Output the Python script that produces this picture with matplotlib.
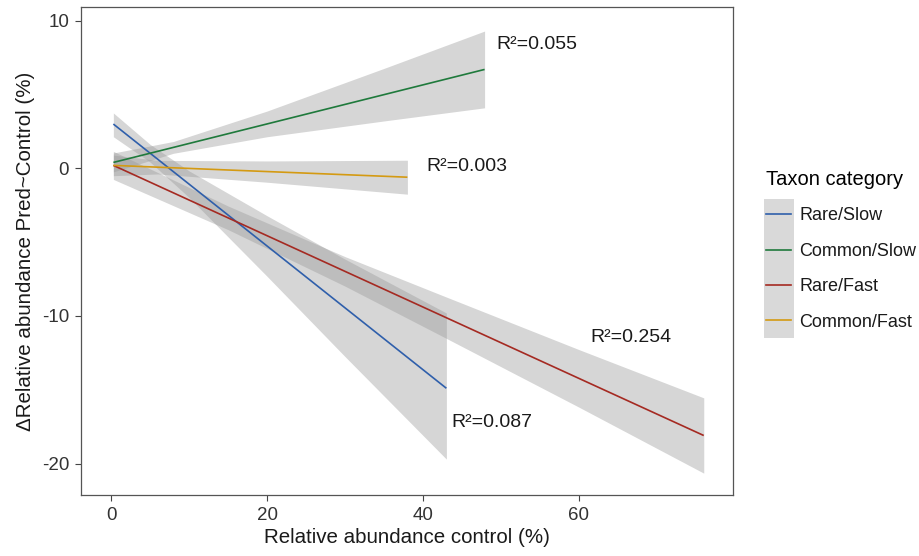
import matplotlib
matplotlib.use("Agg")
import matplotlib.pyplot as plt
from matplotlib.lines import Line2D
from matplotlib.patches import Rectangle

plt.rcParams['font.family'] = ['Liberation Sans', 'DejaVu Sans']
plt.rcParams['axes.unicode_minus'] = False

# ---- data ----
categories = ["Rare/Slow", "Common/Slow", "Rare/Fast", "Common/Fast"]
colors = ["#2f5fab", "#1f7a3c", "#a52a22", "#d49a12"]

# fitted line endpoints
line_x0 = [0.3, 0.3, 0.3, 0.3]
line_x1 = [43.0, 47.9, 76.0, 38.0]
line_y0 = [3.0, 0.4, 0.2, 0.2]
line_y1 = [-14.9, 6.7, -18.1, -0.6]

# confidence bands
band_x = [
    [0.3, 5, 10, 20, 30, 43],
    [0.3, 8, 20, 35, 47.9],
    [0.3, 15, 30, 43, 60, 76],
    [0.3, 6, 20, 38],
]
band_lo = [
    [2.14, 0.43, -1.97, -7.31, -12.75, -19.7],
    [-0.24, 1.02, 2.14, 3.21, 4.1],
    [-0.75, -4.15, -7.98, -11.52, -16.18, -20.65],
    [-0.50, -0.38, -0.94, -1.75],
]
band_hi = [
    [3.75, 1.63, -0.17, -3.21, -6.15, -9.8],
    [1.04, 1.82, 3.88, 6.77, 9.3],
    [1.15, -2.55, -5.98, -8.72, -12.28, -15.55],
    [0.90, 0.54, 0.50, 0.55],
]

r2_labels = ["R\u00b2=0.087", "R\u00b2=0.055", "R\u00b2=0.254", "R\u00b2=0.003"]
r2_x = [43.6, 49.4, 61.4, 40.4]
r2_y = [-17.2, 8.42, -11.43, 0.1]

xticks = [0, 20, 40, 60]
yticks = [-20, -10, 0, 10]

# ---- figure ----
W, H = 920, 556
fig = plt.figure(figsize=(W / 100, H / 100), dpi=100)
ax = fig.add_axes([81 / W, 1 - 495 / H, (733 - 81) / W, (495 - 7) / H])

for i in range(len(categories)):
    ax.fill_between(band_x[i], band_lo[i], band_hi[i], color="#999999",
                    alpha=0.4, linewidth=0, zorder=1)
for i in range(len(categories)):
    ax.plot([line_x0[i], line_x1[i]], [line_y0[i], line_y1[i]],
            color=colors[i], lw=1.2, zorder=3, solid_capstyle="butt")

for i in range(len(categories)):
    ax.text(r2_x[i], r2_y[i], r2_labels[i], fontsize=14, color="#1a1a1a",
            ha="left", va="center")

ax.set_xlim(-3.85, 79.75)
ax.set_ylim(-22.13, 10.93)
ax.set_xticks(xticks)
ax.set_yticks(yticks)
ax.tick_params(axis="both", direction="out", length=4, width=0.8,
               color="#444444", labelsize=13.5, labelcolor="#333333", pad=4.5)
for s in ax.spines.values():
    s.set_color("#555555")
    s.set_linewidth(0.9)

ax.set_xlabel("Relative abundance control (%)", fontsize=14.8, color="#1a1a1a",
              labelpad=3)
ax.set_ylabel("\u0394Relative abundance Pred~Control (%)", fontsize=14.8,
              color="#1a1a1a", labelpad=5)

handles = [Line2D([], [], color=c, lw=1.2) for c in colors]
leg = ax.legend(handles, categories, title="Taxon category",
                loc="upper left", bbox_to_anchor=(766 / W, 1 - 170 / H),
                bbox_transform=fig.transFigure, frameon=False, fontsize=13,
                title_fontsize=14.5, handlelength=1.4, handletextpad=0.45,
                labelspacing=1.02, borderpad=0, borderaxespad=0,
                alignment="left")
for t in leg.get_texts():
    t.set_color("#1a1a1a")

fig.canvas.draw()
hx0 = min(h.get_window_extent().x0 for h in leg.legend_handles)
hx1 = max(h.get_window_extent().x1 for h in leg.legend_handles)
ys = [t.get_window_extent() for t in leg.get_texts()]
ytop = max((e.y0 + e.y1) / 2 for e in ys) + 17
ybot = min((e.y0 + e.y1) / 2 for e in ys) - 16
rect = Rectangle(((hx0 - 2) / W, ybot / H), (hx1 - hx0 + 5) / W,
                 (ytop - ybot) / H, transform=fig.transFigure,
                 facecolor="#d9d9d9", edgecolor="none", zorder=-1)
fig.add_artist(rect)

fig.savefig("out.png", dpi=100)
